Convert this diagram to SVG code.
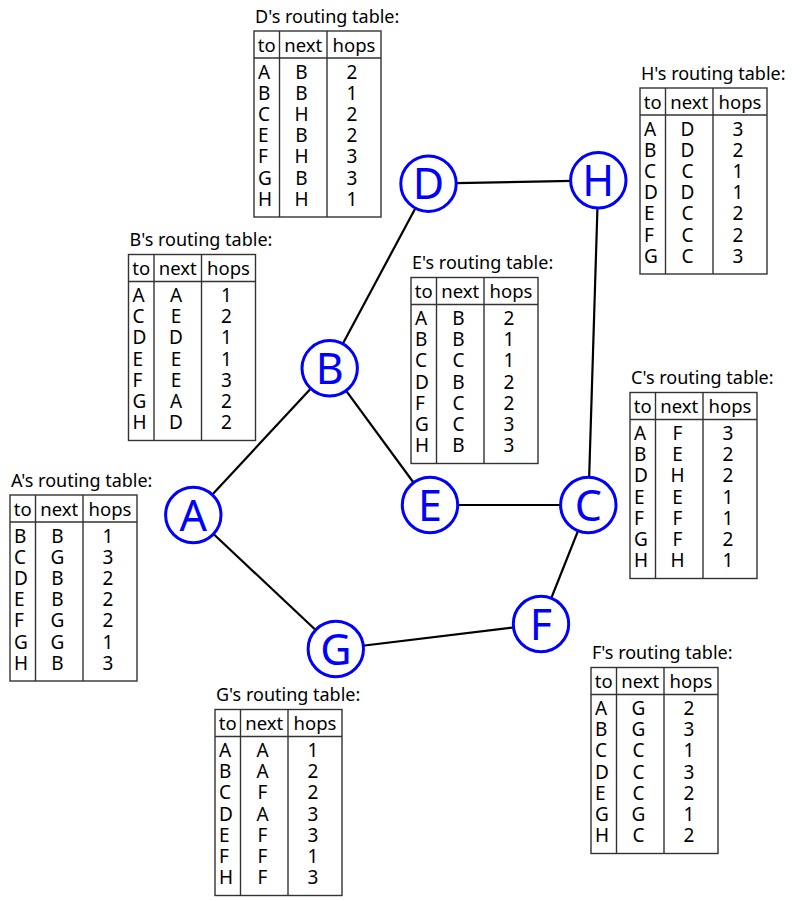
<svg xmlns="http://www.w3.org/2000/svg" width="800" height="901" viewBox="0 0 800 901">
<style>
text{font-family:"Noto Sans","Open Sans","DejaVu Sans",sans-serif;fill:#000}
.t{font-size:18px}
.h{font-size:18.5px;text-anchor:middle}
.c{font-size:19px;text-anchor:middle}
.l{font-size:19px}
.box{fill:#fff;stroke:#333;stroke-width:1.4}
.ln{stroke:#333;stroke-width:1.4}
.edge{stroke:#000;stroke-width:2.2;fill:none}
.node circle{fill:#fff;stroke:#0000ff;stroke-width:3}
.node text{font-size:43px;fill:#0000ff;text-anchor:middle}
</style>
<defs>
<g id="frame">
<rect class="box" x="0" y="0" width="127" height="186"/>
<line class="ln" x1="0" y1="27" x2="127" y2="27"/>
<line class="ln" x1="25.5" y1="0" x2="25.5" y2="186"/>
<line class="ln" x1="73" y1="0" x2="73" y2="186"/>
<text class="h" x="12.75" y="20.5">to</text>
<text class="h" x="49.25" y="20.5">next</text>
<text class="h" x="100" y="20.5">hops</text>
</g>
</defs>
<g id="connectors">
<line class="edge" x1="193.3" y1="515" x2="329.7" y2="368.3"/>
<line class="edge" x1="329.7" y1="368.3" x2="428.5" y2="183.7"/>
<line class="edge" x1="428.5" y1="183.7" x2="598.3" y2="180.3"/>
<line class="edge" x1="329.7" y1="368.3" x2="430" y2="505"/>
<line class="edge" x1="430" y1="505" x2="588.3" y2="505"/>
<line class="edge" x1="598.3" y1="180.3" x2="588.3" y2="505"/>
<line class="edge" x1="588.3" y1="505" x2="541" y2="624"/>
<line class="edge" x1="541" y1="624" x2="335.8" y2="649"/>
<line class="edge" x1="193.3" y1="515" x2="335.8" y2="649"/>
</g>
<g id="node-A" class="node"><circle cx="193.3" cy="515" r="27.7"/><text x="193.3" y="530.5">A</text></g>
<g id="node-B" class="node"><circle cx="329.7" cy="368.3" r="27.7"/><text x="329.7" y="383.8">B</text></g>
<g id="node-C" class="node"><circle cx="588.3" cy="505" r="27.7"/><text x="588.3" y="520.5">C</text></g>
<g id="node-D" class="node"><circle cx="428.5" cy="183.7" r="27.7"/><text x="428.5" y="199.2">D</text></g>
<g id="node-E" class="node"><circle cx="430" cy="505" r="27.7"/><text x="430" y="520.5">E</text></g>
<g id="node-F" class="node"><circle cx="541" cy="624" r="27.7"/><text x="541" y="639.5">F</text></g>
<g id="node-G" class="node"><circle cx="335.8" cy="649" r="27.7"/><text x="335.8" y="664.5">G</text></g>
<g id="node-H" class="node"><circle cx="598.3" cy="180.3" r="27.7"/><text x="598.3" y="195.8">H</text></g>

<g id="table-D" transform="translate(254,31)">
<text class="t" x="1" y="-8.5">D's routing table:</text>
<use href="#frame"/>
<text class="l" x="4" y="47.5">A</text><text class="c" x="47.5" y="47.5">B</text><text class="c" x="98" y="47.5">2</text>
<text class="l" x="4" y="68.7">B</text><text class="c" x="47.5" y="68.7">B</text><text class="c" x="98" y="68.7">1</text>
<text class="l" x="4" y="89.9">C</text><text class="c" x="47.5" y="89.9">H</text><text class="c" x="98" y="89.9">2</text>
<text class="l" x="4" y="111.1">E</text><text class="c" x="47.5" y="111.1">B</text><text class="c" x="98" y="111.1">2</text>
<text class="l" x="4" y="132.3">F</text><text class="c" x="47.5" y="132.3">H</text><text class="c" x="98" y="132.3">3</text>
<text class="l" x="4" y="153.5">G</text><text class="c" x="47.5" y="153.5">B</text><text class="c" x="98" y="153.5">3</text>
<text class="l" x="4" y="174.7">H</text><text class="c" x="47.5" y="174.7">H</text><text class="c" x="98" y="174.7">1</text>
</g>

<g id="table-H" transform="translate(640,88)">
<text class="t" x="1" y="-8.5">H's routing table:</text>
<use href="#frame"/>
<text class="l" x="4" y="47.5">A</text><text class="c" x="47.5" y="47.5">D</text><text class="c" x="98" y="47.5">3</text>
<text class="l" x="4" y="68.7">B</text><text class="c" x="47.5" y="68.7">D</text><text class="c" x="98" y="68.7">2</text>
<text class="l" x="4" y="89.9">C</text><text class="c" x="47.5" y="89.9">C</text><text class="c" x="98" y="89.9">1</text>
<text class="l" x="4" y="111.1">D</text><text class="c" x="47.5" y="111.1">D</text><text class="c" x="98" y="111.1">1</text>
<text class="l" x="4" y="132.3">E</text><text class="c" x="47.5" y="132.3">C</text><text class="c" x="98" y="132.3">2</text>
<text class="l" x="4" y="153.5">F</text><text class="c" x="47.5" y="153.5">C</text><text class="c" x="98" y="153.5">2</text>
<text class="l" x="4" y="174.7">G</text><text class="c" x="47.5" y="174.7">C</text><text class="c" x="98" y="174.7">3</text>
</g>

<g id="table-B" transform="translate(128.5,254.5)">
<text class="t" x="1" y="-8.5">B's routing table:</text>
<use href="#frame"/>
<text class="l" x="4" y="47.5">A</text><text class="c" x="47.5" y="47.5">A</text><text class="c" x="98" y="47.5">1</text>
<text class="l" x="4" y="68.7">C</text><text class="c" x="47.5" y="68.7">E</text><text class="c" x="98" y="68.7">2</text>
<text class="l" x="4" y="89.9">D</text><text class="c" x="47.5" y="89.9">D</text><text class="c" x="98" y="89.9">1</text>
<text class="l" x="4" y="111.1">E</text><text class="c" x="47.5" y="111.1">E</text><text class="c" x="98" y="111.1">1</text>
<text class="l" x="4" y="132.3">F</text><text class="c" x="47.5" y="132.3">E</text><text class="c" x="98" y="132.3">3</text>
<text class="l" x="4" y="153.5">G</text><text class="c" x="47.5" y="153.5">A</text><text class="c" x="98" y="153.5">2</text>
<text class="l" x="4" y="174.7">H</text><text class="c" x="47.5" y="174.7">D</text><text class="c" x="98" y="174.7">2</text>
</g>

<g id="table-E" transform="translate(411,277.5)">
<text class="t" x="1" y="-8.5">E's routing table:</text>
<use href="#frame"/>
<text class="l" x="4" y="47.5">A</text><text class="c" x="47.5" y="47.5">B</text><text class="c" x="98" y="47.5">2</text>
<text class="l" x="4" y="68.7">B</text><text class="c" x="47.5" y="68.7">B</text><text class="c" x="98" y="68.7">1</text>
<text class="l" x="4" y="89.9">C</text><text class="c" x="47.5" y="89.9">C</text><text class="c" x="98" y="89.9">1</text>
<text class="l" x="4" y="111.1">D</text><text class="c" x="47.5" y="111.1">B</text><text class="c" x="98" y="111.1">2</text>
<text class="l" x="4" y="132.3">F</text><text class="c" x="47.5" y="132.3">C</text><text class="c" x="98" y="132.3">2</text>
<text class="l" x="4" y="153.5">G</text><text class="c" x="47.5" y="153.5">C</text><text class="c" x="98" y="153.5">3</text>
<text class="l" x="4" y="174.7">H</text><text class="c" x="47.5" y="174.7">B</text><text class="c" x="98" y="174.7">3</text>
</g>

<g id="table-C" transform="translate(630,392.5)">
<text class="t" x="1" y="-8.5">C's routing table:</text>
<use href="#frame"/>
<text class="l" x="4" y="47.5">A</text><text class="c" x="47.5" y="47.5">F</text><text class="c" x="98" y="47.5">3</text>
<text class="l" x="4" y="68.7">B</text><text class="c" x="47.5" y="68.7">E</text><text class="c" x="98" y="68.7">2</text>
<text class="l" x="4" y="89.9">D</text><text class="c" x="47.5" y="89.9">H</text><text class="c" x="98" y="89.9">2</text>
<text class="l" x="4" y="111.1">E</text><text class="c" x="47.5" y="111.1">E</text><text class="c" x="98" y="111.1">1</text>
<text class="l" x="4" y="132.3">F</text><text class="c" x="47.5" y="132.3">F</text><text class="c" x="98" y="132.3">1</text>
<text class="l" x="4" y="153.5">G</text><text class="c" x="47.5" y="153.5">F</text><text class="c" x="98" y="153.5">2</text>
<text class="l" x="4" y="174.7">H</text><text class="c" x="47.5" y="174.7">H</text><text class="c" x="98" y="174.7">1</text>
</g>

<g id="table-A" transform="translate(10,495)">
<text class="t" x="1" y="-8.5">A's routing table:</text>
<use href="#frame"/>
<text class="l" x="4" y="47.5">B</text><text class="c" x="47.5" y="47.5">B</text><text class="c" x="98" y="47.5">1</text>
<text class="l" x="4" y="68.7">C</text><text class="c" x="47.5" y="68.7">G</text><text class="c" x="98" y="68.7">3</text>
<text class="l" x="4" y="89.9">D</text><text class="c" x="47.5" y="89.9">B</text><text class="c" x="98" y="89.9">2</text>
<text class="l" x="4" y="111.1">E</text><text class="c" x="47.5" y="111.1">B</text><text class="c" x="98" y="111.1">2</text>
<text class="l" x="4" y="132.3">F</text><text class="c" x="47.5" y="132.3">G</text><text class="c" x="98" y="132.3">2</text>
<text class="l" x="4" y="153.5">G</text><text class="c" x="47.5" y="153.5">G</text><text class="c" x="98" y="153.5">1</text>
<text class="l" x="4" y="174.7">H</text><text class="c" x="47.5" y="174.7">B</text><text class="c" x="98" y="174.7">3</text>
</g>

<g id="table-G" transform="translate(215,709.5)">
<text class="t" x="1" y="-8.5">G's routing table:</text>
<use href="#frame"/>
<text class="l" x="4" y="47.5">A</text><text class="c" x="47.5" y="47.5">A</text><text class="c" x="98" y="47.5">1</text>
<text class="l" x="4" y="68.7">B</text><text class="c" x="47.5" y="68.7">A</text><text class="c" x="98" y="68.7">2</text>
<text class="l" x="4" y="89.9">C</text><text class="c" x="47.5" y="89.9">F</text><text class="c" x="98" y="89.9">2</text>
<text class="l" x="4" y="111.1">D</text><text class="c" x="47.5" y="111.1">A</text><text class="c" x="98" y="111.1">3</text>
<text class="l" x="4" y="132.3">E</text><text class="c" x="47.5" y="132.3">F</text><text class="c" x="98" y="132.3">3</text>
<text class="l" x="4" y="153.5">F</text><text class="c" x="47.5" y="153.5">F</text><text class="c" x="98" y="153.5">1</text>
<text class="l" x="4" y="174.7">H</text><text class="c" x="47.5" y="174.7">F</text><text class="c" x="98" y="174.7">3</text>
</g>

<g id="table-F" transform="translate(591,667.5)">
<text class="t" x="1" y="-8.5">F's routing table:</text>
<use href="#frame"/>
<text class="l" x="4" y="47.5">A</text><text class="c" x="47.5" y="47.5">G</text><text class="c" x="98" y="47.5">2</text>
<text class="l" x="4" y="68.7">B</text><text class="c" x="47.5" y="68.7">G</text><text class="c" x="98" y="68.7">3</text>
<text class="l" x="4" y="89.9">C</text><text class="c" x="47.5" y="89.9">C</text><text class="c" x="98" y="89.9">1</text>
<text class="l" x="4" y="111.1">D</text><text class="c" x="47.5" y="111.1">C</text><text class="c" x="98" y="111.1">3</text>
<text class="l" x="4" y="132.3">E</text><text class="c" x="47.5" y="132.3">C</text><text class="c" x="98" y="132.3">2</text>
<text class="l" x="4" y="153.5">G</text><text class="c" x="47.5" y="153.5">G</text><text class="c" x="98" y="153.5">1</text>
<text class="l" x="4" y="174.7">H</text><text class="c" x="47.5" y="174.7">C</text><text class="c" x="98" y="174.7">2</text>
</g>
</svg>
